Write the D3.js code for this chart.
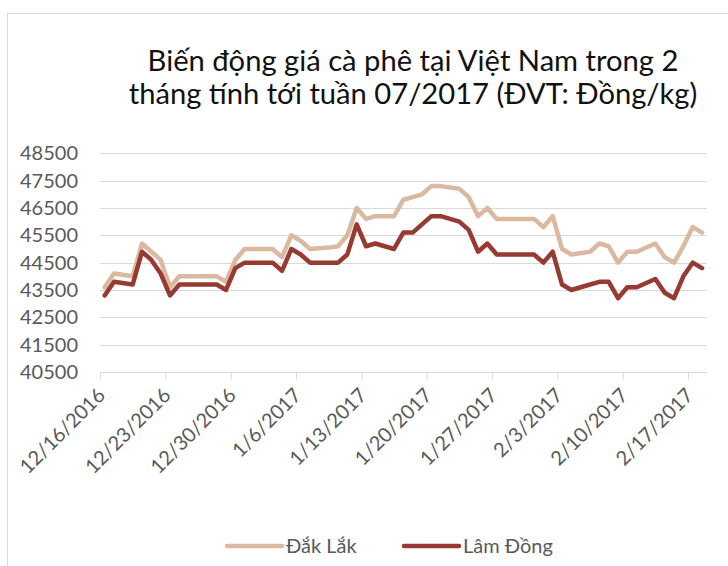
<!DOCTYPE html>
<html>
<head>
<meta charset="utf-8">
<script src="https://cdn.jsdelivr.net/npm/d3@7"></script>
<style>
  html, body { margin: 0; padding: 0; background: #fff; }
  svg { display: block; font-family: Lato, "Open Sans", sans-serif; }
</style>
</head>
<body>
<svg id="chart" width="728" height="566"></svg>
<script>
// ---------- data ----------
const titleLines = ["Biến động giá cà phê tại Việt Nam trong 2", "tháng tính tới tuần 07/2017 (ĐVT: Đồng/kg)"];
const seriesNames = ["Đắk Lắk", "Lâm Đồng"];
const dates = [
  "2016-12-16","2016-12-17","2016-12-19","2016-12-20","2016-12-21","2016-12-22","2016-12-23","2016-12-24",
  "2016-12-26","2016-12-27","2016-12-28","2016-12-29","2016-12-30","2016-12-31",
  "2017-01-02","2017-01-03","2017-01-04","2017-01-05","2017-01-06","2017-01-07",
  "2017-01-09","2017-01-10","2017-01-11","2017-01-12","2017-01-13","2017-01-14",
  "2017-01-16","2017-01-17","2017-01-18","2017-01-19","2017-01-20","2017-01-21",
  "2017-01-23","2017-01-24","2017-01-25","2017-01-26","2017-01-27","2017-01-28",
  "2017-01-30","2017-01-31",
  "2017-02-01","2017-02-02","2017-02-03","2017-02-04",
  "2017-02-06","2017-02-07","2017-02-08","2017-02-09","2017-02-10","2017-02-11",
  "2017-02-13","2017-02-14","2017-02-15","2017-02-16","2017-02-17","2017-02-18"
];
const dakLak = [
  43600,44100,44000,45200,44900,44600,43600,44000,44000,44000,44000,43800,44600,45000,
  45000,45000,44700,45500,45300,45000,45050,45100,45500,46500,46100,46200,
  46200,46800,46900,47000,47300,47300,47200,46900,46200,46500,46100,46100,46100,46100,
  45800,46200,45000,44800,44900,45200,45100,44500,44900,44900,45200,44700,44500,45100,45800,45600
];
const lamDong = [
  43300,43800,43700,44900,44600,44100,43300,43700,43700,43700,43700,43500,44300,44500,
  44500,44500,44200,45000,44800,44500,44500,44500,44800,45900,45100,45200,
  45000,45600,45600,45900,46200,46200,46000,45700,44900,45200,44800,44800,44800,44800,
  44500,44900,43700,43500,43700,43800,43800,43200,43600,43600,43900,43400,43200,44000,44500,44300
];
const yTicks = [40500,41500,42500,43500,44500,45500,46500,47500,48500];
const xTickDates = ["2016-12-16","2016-12-23","2016-12-30","2017-01-06","2017-01-13","2017-01-20","2017-01-27","2017-02-03","2017-02-10","2017-02-17"];
const xTickLabels = ["12/16/2016","12/23/2016","12/30/2016","1/6/2017","1/13/2017","1/20/2017","1/27/2017","2/3/2017","2/10/2017","2/17/2017"];
const xDomain = ["2016-12-16","2017-02-19"];
const colors = ["#DBB9A1","#973A31"];

// ---------- layout ----------
const svg = d3.select("#chart");
const W = 728, H = 566;
const plot = {left: 100, right: 706.7, top: 153.3, bottom: 372};
const parse = s => { const [y,m,d] = s.split("-").map(Number); return new Date(y, m-1, d); };
const midDay = d => new Date(d.getTime() + 12*3600*1000);

const x = d3.scaleTime().domain(xDomain.map(parse)).range([plot.left, plot.right]);
const y = d3.scaleLinear().domain([40500, 48500]).range([plot.bottom, plot.top]);

// outer chart border
svg.append("rect").attr("x", 7.5).attr("y", 13.5).attr("width", 760).attr("height", 600)
  .attr("fill", "#fff").attr("stroke", "#d9d9d9").attr("stroke-width", 1);

// title
const titleG = svg.append("g");
const tl = titleG.selectAll("text").data(titleLines).join("text")
  .attr("x", 413).attr("y", (d,i) => 71 + i*33)
  .attr("text-anchor", "middle").attr("fill", "#111")
  .style("font-size", "100px").text(d => d);
const w2 = tl.nodes()[1].getComputedTextLength();
const fs = 100 * 569 / w2;
tl.style("font-size", fs + "px");

// gridlines
svg.append("g").selectAll("line").data(yTicks.filter(v => v !== 40500)).join("line")
  .attr("x1", plot.left).attr("x2", plot.right)
  .attr("y1", d => Math.round(y(d)) + 0.5).attr("y2", d => Math.round(y(d)) + 0.5)
  .attr("stroke", "#d9d9d9").attr("stroke-width", 1);

// y axis labels
const yAxis = d3.axisLeft(y).tickValues(yTicks).tickSize(0).tickPadding(22).tickFormat(d3.format("d"));
const yg = svg.append("g").attr("transform", `translate(${plot.left},0)`).call(yAxis);
yg.select(".domain").remove();
yg.selectAll("text").attr("fill", "#595959").style("font-size", "20px").style("font-family", "Lato, sans-serif");

// x axis
const xAxis = d3.axisBottom(x).tickValues(xTickDates.map(parse)).tickSize(7)
  .tickFormat((d,i) => xTickLabels[i]);
const xg = svg.append("g").attr("transform", `translate(0,${Math.round(plot.bottom)+0.5})`).call(xAxis);
xg.select(".domain").attr("stroke", "#d9d9d9").attr("d", `M${plot.left},0H${plot.right}`);
xg.selectAll(".tick line").attr("stroke", "#d9d9d9");
xg.selectAll(".tick text")
  .attr("fill", "#595959").style("font-size", "20px").style("font-family", "Lato, sans-serif")
  .attr("text-anchor", "end").attr("dy", null).attr("y", null)
  .attr("transform", "translate(6,24) rotate(-45)");

// lines
const series = [dakLak, lamDong];
const line = d3.line().x(d => x(midDay(d.date))).y(d => y(d.v));
series.forEach((vals, si) => {
  const pts = dates.map((s, i) => ({date: parse(s), v: vals[i]}));
  svg.append("path").datum(pts).attr("d", line)
    .attr("fill", "none").attr("stroke", colors[si]).attr("stroke-width", 4.5)
    .attr("stroke-linejoin", "round").attr("stroke-linecap", "round");
});

// legend
const legendItems = [{x: 227, name: seriesNames[0], c: colors[0]}, {x: 404, name: seriesNames[1], c: colors[1]}];
const lg = svg.append("g");
legendItems.forEach(it => {
  lg.append("line").attr("x1", it.x).attr("x2", it.x + 55).attr("y1", 546).attr("y2", 546)
    .attr("stroke", it.c).attr("stroke-width", 4.5).attr("stroke-linecap", "round");
  lg.append("text").attr("x", it.x + 59).attr("y", 553).attr("fill", "#595959")
    .style("font-size", "20px").text(it.name);
});
</script>
</body>
</html>
